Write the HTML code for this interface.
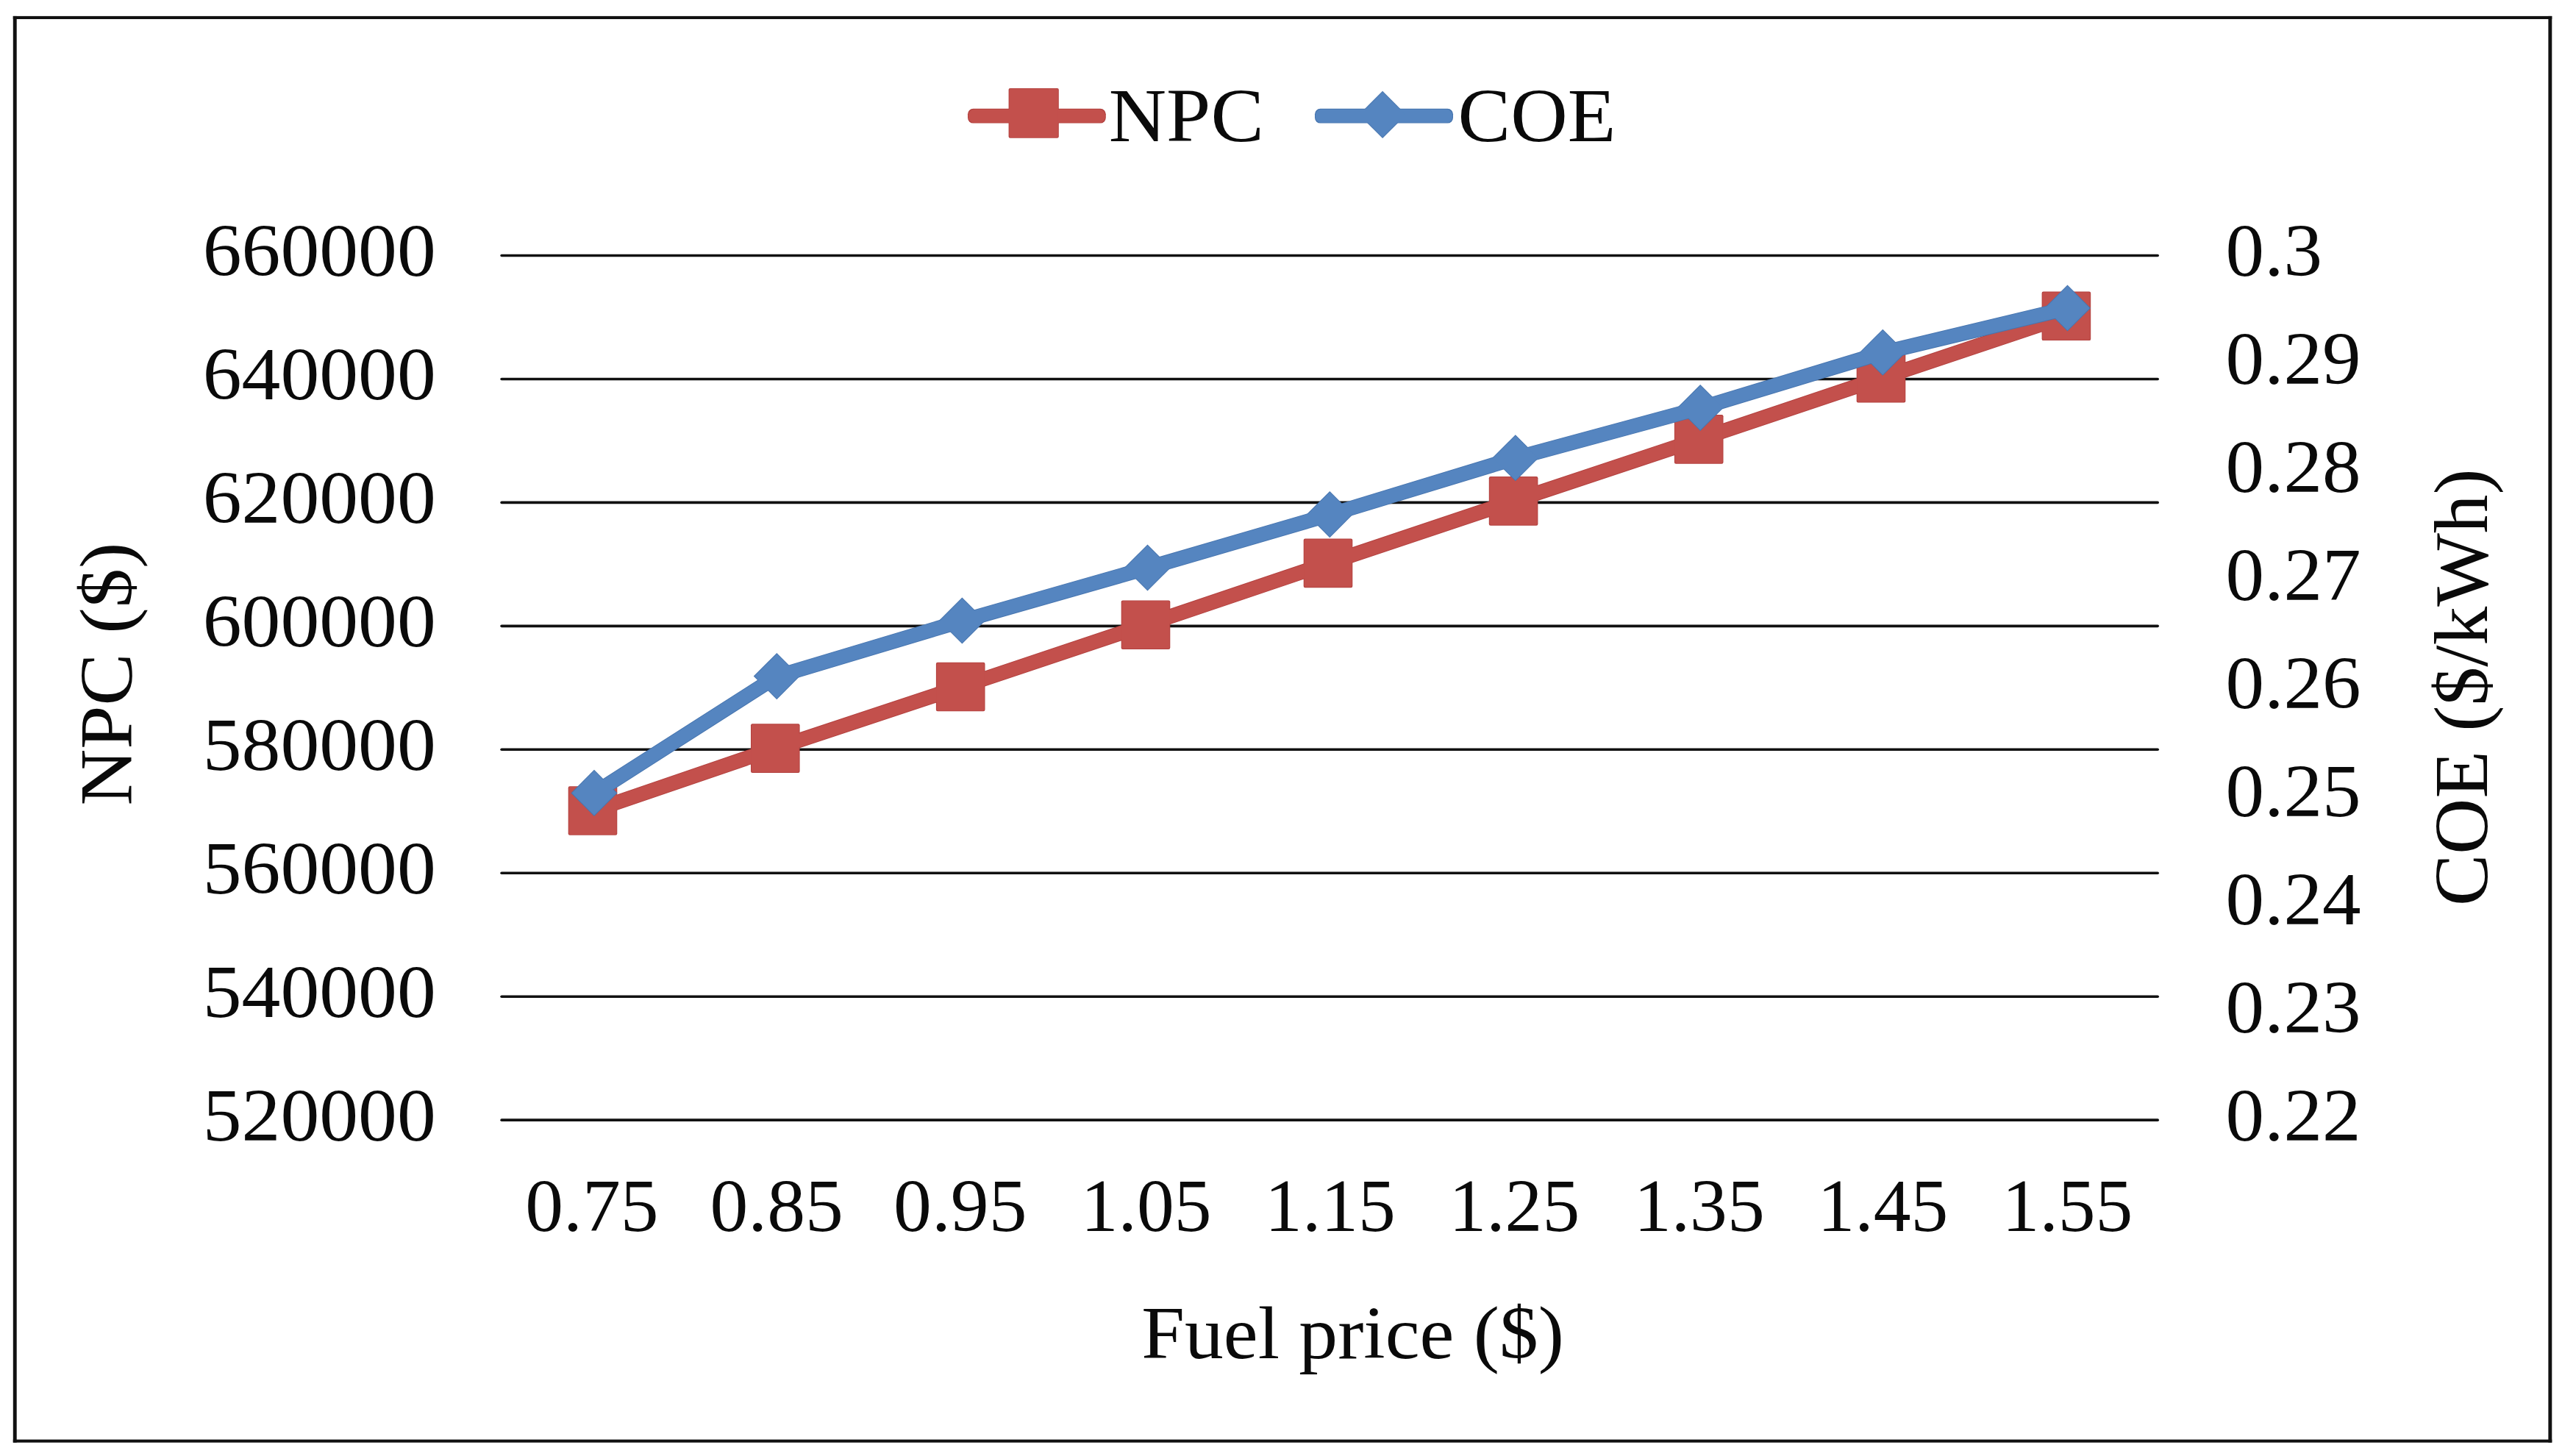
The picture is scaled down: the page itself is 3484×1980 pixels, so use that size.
<!DOCTYPE html>
<html lang="en">
<head>
<meta charset="utf-8">
<title>NPC and COE versus fuel price</title>
<style>
html,body{margin:0;padding:0;background:#ffffff;}
body{width:3484px;height:1980px;overflow:hidden;font-family:"Liberation Serif", "Times New Roman", Times, serif;}
svg{display:block;}
text{white-space:pre;}
</style>
</head>
<body>
<svg width="3484" height="1980" viewBox="0 0 3484 1980" font-family='"Liberation Serif", "Times New Roman", Times, serif' fill="#0a0a0a">
<rect width="3484" height="1980" fill="#ffffff"/>
<g fill="#111111"><rect x="17.8" y="21.9" width="3452.50" height="4.1"/><rect x="17.8" y="1957.60" width="3452.50" height="4.1"/><rect x="17.8" y="21.9" width="4.9" height="1939.80"/><rect x="3465.40" y="21.9" width="4.9" height="1939.80"/></g>
<g stroke="#111111" stroke-width="3.60" stroke-linecap="round">
<line x1="682.10" y1="347.50" x2="2934.20" y2="347.50"/>
<line x1="682.10" y1="515.45" x2="2934.20" y2="515.45"/>
<line x1="682.10" y1="683.40" x2="2934.20" y2="683.40"/>
<line x1="682.10" y1="851.35" x2="2934.20" y2="851.35"/>
<line x1="682.10" y1="1019.30" x2="2934.20" y2="1019.30"/>
<line x1="682.10" y1="1187.25" x2="2934.20" y2="1187.25"/>
<line x1="682.10" y1="1355.20" x2="2934.20" y2="1355.20"/>
<line x1="682.10" y1="1523.15" x2="2934.20" y2="1523.15"/>
</g>
<polyline points="806.0,1102.5 1054.3,1017.6 1306.2,934.0 1558.0,849.7 1806.0,765.9 2058.1,681.4 2310.2,597.4 2558.0,514.1 2809.9,429.8" fill="none" stroke="#B2403E" stroke-width="20.20" stroke-linejoin="round" stroke-linecap="round"/>
<rect x="772.70" y="1069.20" width="66.60" height="66.60" rx="2.2" fill="#B2403E"/>
<rect x="1021.00" y="984.30" width="66.60" height="66.60" rx="2.2" fill="#B2403E"/>
<rect x="1272.90" y="900.70" width="66.60" height="66.60" rx="2.2" fill="#B2403E"/>
<rect x="1524.70" y="816.40" width="66.60" height="66.60" rx="2.2" fill="#B2403E"/>
<rect x="1772.70" y="732.60" width="66.60" height="66.60" rx="2.2" fill="#B2403E"/>
<rect x="2024.80" y="648.10" width="66.60" height="66.60" rx="2.2" fill="#B2403E"/>
<rect x="2276.90" y="564.10" width="66.60" height="66.60" rx="2.2" fill="#B2403E"/>
<rect x="2524.70" y="480.80" width="66.60" height="66.60" rx="2.2" fill="#B2403E"/>
<rect x="2776.60" y="396.50" width="66.60" height="66.60" rx="2.2" fill="#B2403E"/>
<polyline points="806.0,1102.5 1054.3,1017.6 1306.2,934.0 1558.0,849.7 1806.0,765.9 2058.1,681.4 2310.2,597.4 2558.0,514.1 2809.9,429.8" fill="none" stroke="#C3504C" stroke-width="18.40" stroke-linejoin="round" stroke-linecap="round"/>
<rect x="773.60" y="1070.10" width="64.80" height="64.80" rx="2.2" fill="#C3504C"/>
<rect x="1021.90" y="985.20" width="64.80" height="64.80" rx="2.2" fill="#C3504C"/>
<rect x="1273.80" y="901.60" width="64.80" height="64.80" rx="2.2" fill="#C3504C"/>
<rect x="1525.60" y="817.30" width="64.80" height="64.80" rx="2.2" fill="#C3504C"/>
<rect x="1773.60" y="733.50" width="64.80" height="64.80" rx="2.2" fill="#C3504C"/>
<rect x="2025.70" y="649.00" width="64.80" height="64.80" rx="2.2" fill="#C3504C"/>
<rect x="2277.80" y="565.00" width="64.80" height="64.80" rx="2.2" fill="#C3504C"/>
<rect x="2525.60" y="481.70" width="64.80" height="64.80" rx="2.2" fill="#C3504C"/>
<rect x="2777.50" y="397.40" width="64.80" height="64.80" rx="2.2" fill="#C3504C"/>
<polyline points="808.0,1078.7 1056.3,919.9 1308.4,844.3 1560.5,772.3 1808.3,699.9 2060.8,623.0 2312.2,554.8 2560.3,479.6 2811.5,419.3" fill="none" stroke="#4674AE" stroke-width="20.20" stroke-linejoin="round" stroke-linecap="round"/>
<polygon points="808.00,1046.85 839.55,1078.40 808.00,1109.95 776.45,1078.40" fill="#4674AE"/>
<polygon points="1056.30,888.05 1087.85,919.60 1056.30,951.15 1024.75,919.60" fill="#4674AE"/>
<polygon points="1308.40,812.45 1339.95,844.00 1308.40,875.55 1276.85,844.00" fill="#4674AE"/>
<polygon points="1560.50,740.45 1592.05,772.00 1560.50,803.55 1528.95,772.00" fill="#4674AE"/>
<polygon points="1808.30,668.05 1839.85,699.60 1808.30,731.15 1776.75,699.60" fill="#4674AE"/>
<polygon points="2060.80,591.15 2092.35,622.70 2060.80,654.25 2029.25,622.70" fill="#4674AE"/>
<polygon points="2312.20,522.95 2343.75,554.50 2312.20,586.05 2280.65,554.50" fill="#4674AE"/>
<polygon points="2560.30,447.75 2591.85,479.30 2560.30,510.85 2528.75,479.30" fill="#4674AE"/>
<polygon points="2811.50,387.45 2843.05,419.00 2811.50,450.55 2779.95,419.00" fill="#4674AE"/>
<polyline points="808.0,1078.7 1056.3,919.9 1308.4,844.3 1560.5,772.3 1808.3,699.9 2060.8,623.0 2312.2,554.8 2560.3,479.6 2811.5,419.3" fill="none" stroke="#5585C0" stroke-width="18.40" stroke-linejoin="round" stroke-linecap="round"/>
<polygon points="808.00,1048.12 838.28,1078.40 808.00,1108.68 777.72,1078.40" fill="#5585C0"/>
<polygon points="1056.30,889.32 1086.58,919.60 1056.30,949.88 1026.02,919.60" fill="#5585C0"/>
<polygon points="1308.40,813.72 1338.68,844.00 1308.40,874.28 1278.12,844.00" fill="#5585C0"/>
<polygon points="1560.50,741.72 1590.78,772.00 1560.50,802.28 1530.22,772.00" fill="#5585C0"/>
<polygon points="1808.30,669.32 1838.58,699.60 1808.30,729.88 1778.02,699.60" fill="#5585C0"/>
<polygon points="2060.80,592.42 2091.08,622.70 2060.80,652.98 2030.52,622.70" fill="#5585C0"/>
<polygon points="2312.20,524.22 2342.48,554.50 2312.20,584.78 2281.92,554.50" fill="#5585C0"/>
<polygon points="2560.30,449.02 2590.58,479.30 2560.30,509.58 2530.02,479.30" fill="#5585C0"/>
<polygon points="2811.50,388.72 2841.78,419.00 2811.50,449.28 2781.22,419.00" fill="#5585C0"/>
<rect x="1316.00" y="147.80" width="187.80" height="19.80" rx="7.5" fill="#B2403E"/>
<rect x="1371.60" y="119.90" width="68.20" height="67.90" rx="2.2" fill="#B2403E"/>
<rect x="1316.90" y="148.70" width="186.00" height="18.00" rx="7.5" fill="#C3504C"/>
<rect x="1372.50" y="120.80" width="66.40" height="66.10" rx="2.2" fill="#C3504C"/>
<rect x="1788.00" y="147.80" width="188.00" height="19.80" rx="7.5" fill="#4674AE"/>
<polygon points="1880.10,123.75 1912.25,155.90 1880.10,188.05 1847.95,155.90" fill="#4674AE"/>
<rect x="1788.90" y="148.70" width="186.20" height="18.00" rx="7.5" fill="#5585C0"/>
<polygon points="1880.10,125.02 1910.98,155.90 1880.10,186.78 1849.22,155.90" fill="#5585C0"/>
<text x="1507.70" y="192.20" font-size="104.00" textLength="211.07" lengthAdjust="spacingAndGlyphs">NPC</text>
<text x="1982.50" y="192.20" font-size="104.00" textLength="214.80" lengthAdjust="spacingAndGlyphs">COE</text>
<text x="275.70" y="375.10" font-size="102.00" textLength="317.10" lengthAdjust="spacingAndGlyphs">660000</text>
<text x="275.70" y="543.05" font-size="102.00" textLength="317.10" lengthAdjust="spacingAndGlyphs">640000</text>
<text x="275.70" y="711.00" font-size="102.00" textLength="317.10" lengthAdjust="spacingAndGlyphs">620000</text>
<text x="275.70" y="878.95" font-size="102.00" textLength="317.10" lengthAdjust="spacingAndGlyphs">600000</text>
<text x="275.70" y="1046.90" font-size="102.00" textLength="317.10" lengthAdjust="spacingAndGlyphs">580000</text>
<text x="275.70" y="1214.85" font-size="102.00" textLength="317.10" lengthAdjust="spacingAndGlyphs">560000</text>
<text x="275.70" y="1382.80" font-size="102.00" textLength="317.10" lengthAdjust="spacingAndGlyphs">540000</text>
<text x="275.70" y="1550.75" font-size="102.00" textLength="317.10" lengthAdjust="spacingAndGlyphs">520000</text>
<text x="3026.60" y="375.30" font-size="101.40" textLength="131.50" lengthAdjust="spacingAndGlyphs">0.3</text>
<text x="3026.60" y="522.27" font-size="101.40" textLength="184.10" lengthAdjust="spacingAndGlyphs">0.29</text>
<text x="3026.60" y="669.24" font-size="101.40" textLength="184.10" lengthAdjust="spacingAndGlyphs">0.28</text>
<text x="3026.60" y="816.21" font-size="101.40" textLength="184.10" lengthAdjust="spacingAndGlyphs">0.27</text>
<text x="3026.60" y="963.18" font-size="101.40" textLength="184.10" lengthAdjust="spacingAndGlyphs">0.26</text>
<text x="3026.60" y="1110.15" font-size="101.40" textLength="184.10" lengthAdjust="spacingAndGlyphs">0.25</text>
<text x="3026.60" y="1257.12" font-size="101.40" textLength="184.10" lengthAdjust="spacingAndGlyphs">0.24</text>
<text x="3026.60" y="1404.09" font-size="101.40" textLength="184.10" lengthAdjust="spacingAndGlyphs">0.23</text>
<text x="3026.60" y="1551.06" font-size="101.40" textLength="184.10" lengthAdjust="spacingAndGlyphs">0.22</text>
<text x="714.16" y="1674.00" font-size="102.00" textLength="181.47" lengthAdjust="spacingAndGlyphs">0.75</text>
<text x="965.46" y="1674.00" font-size="102.00" textLength="181.47" lengthAdjust="spacingAndGlyphs">0.85</text>
<text x="1215.06" y="1674.00" font-size="102.00" textLength="181.47" lengthAdjust="spacingAndGlyphs">0.95</text>
<text x="1469.80" y="1674.00" font-size="102.00" textLength="177.80" lengthAdjust="spacingAndGlyphs">1.05</text>
<text x="1720.10" y="1674.00" font-size="102.00" textLength="177.80" lengthAdjust="spacingAndGlyphs">1.15</text>
<text x="1970.40" y="1674.00" font-size="102.00" textLength="177.80" lengthAdjust="spacingAndGlyphs">1.25</text>
<text x="2221.90" y="1674.00" font-size="102.00" textLength="177.80" lengthAdjust="spacingAndGlyphs">1.35</text>
<text x="2471.50" y="1674.00" font-size="102.00" textLength="177.80" lengthAdjust="spacingAndGlyphs">1.45</text>
<text x="2722.60" y="1674.00" font-size="102.00" textLength="177.80" lengthAdjust="spacingAndGlyphs">1.55</text>
<text x="1552.24" y="1847.00" font-size="102.00" textLength="574.72" lengthAdjust="spacingAndGlyphs">Fuel price ($)</text>
<text x="0.41" y="916.60" font-size="102.50" textLength="357.98" lengthAdjust="spacingAndGlyphs" transform="rotate(-90 179.40 916.60)">NPC ($)</text>
<text x="3084.21" y="934.70" font-size="103.00" textLength="594.78" lengthAdjust="spacingAndGlyphs" transform="rotate(-90 3381.60 934.70)">COE ($/kWh)</text>
</svg>
</body>
</html>
